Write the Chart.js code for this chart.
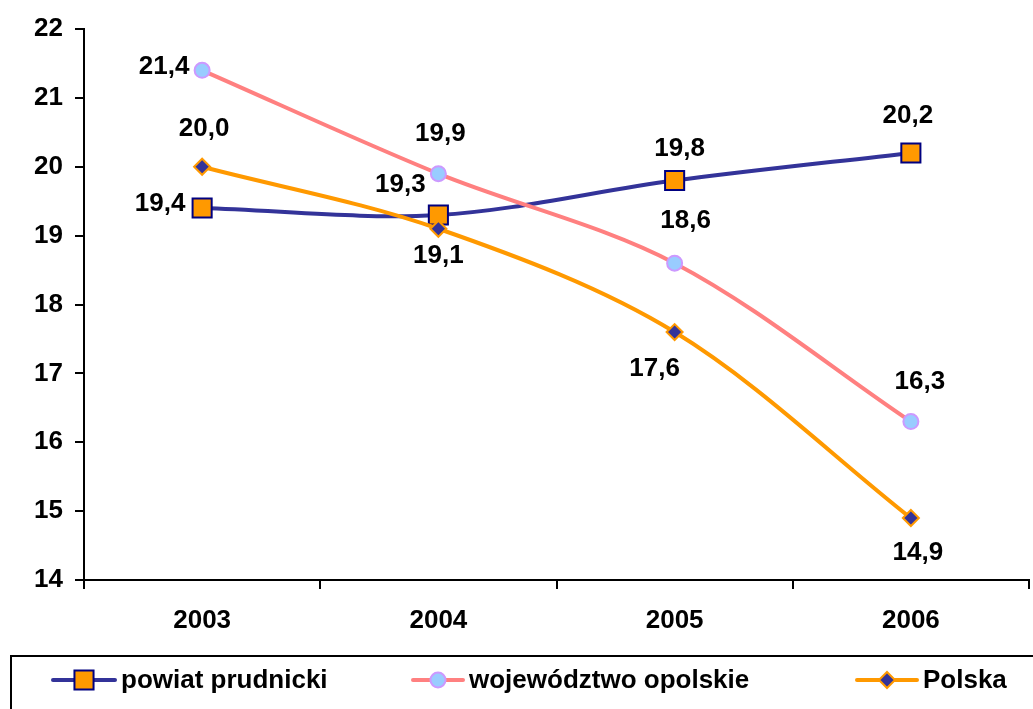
<!DOCTYPE html>
<html>
<head>
<meta charset="utf-8">
<script src="https://cdn.jsdelivr.net/npm/chart.js@4/dist/chart.umd.min.js"></script>
<style>
    body { margin: 0; background: #fff; }
    #wrap { width: 1033px; height: 709px; position: relative; }
</style>
</head>
<body>
<div id="wrap"><canvas id="chart"></canvas></div>
<script>
const years = ['2003', '2004', '2005', '2006'];
const powiat = [19.4, 19.3, 19.8, 20.2];
const wojewodztwo = [21.4, 19.9, 18.6, 16.3];
const polska = [20.0, 19.1, 17.6, 14.9];
const seriesNames = ['powiat prudnicki', 'województwo opolskie', 'Polska'];
const yTicks = [14, 15, 16, 17, 18, 19, 20, 21, 22];

const FONT = '"Liberation Sans", Arial, sans-serif';

// where each value label sits relative to its point
const labelOffsets = [
    [[-42, -4], [-38, -30], [5, -32], [-3, -37]],
    [[-38, -3], [2, -40], [11, -42], [9, -40]],
    [[2, -38], [0, 27], [-20, 37], [7, 35]]
];

const valueLabels = {
    id: 'valueLabels',
    afterDatasetsDraw(chart) {
        const ctx = chart.ctx;
        ctx.save();
        ctx.font = 'bold 26px ' + FONT;
        ctx.fillStyle = '#000';
        ctx.textAlign = 'center';
        ctx.textBaseline = 'middle';
        chart.data.datasets.forEach((ds, i) => {
            const meta = chart.getDatasetMeta(i);
            meta.data.forEach((pt, j) => {
                const off = labelOffsets[i][j];
                const txt = ds.data[j].toFixed(1).replace('.', ',');
                ctx.fillText(txt, pt.x + off[0], pt.y + off[1]);
            });
        });
        ctx.restore();
    }
};

const legendBox = {
    id: 'legendBox',
    afterDraw(chart) {
        const ctx = chart.ctx;
        ctx.save();
        ctx.strokeStyle = '#000';
        ctx.lineWidth = 2;
        ctx.strokeRect(11, 656, 1040, 80);

        const items = [[53, 115], [413, 463], [857, 917]];
        const y = 680;
        ctx.font = 'bold 26px ' + FONT;
        ctx.textBaseline = 'middle';
        ctx.textAlign = 'left';
        chart.data.datasets.forEach((ds, i) => {
            const [x0, x1] = items[i];
            ctx.strokeStyle = ds.borderColor;
            ctx.lineWidth = 4;
            ctx.lineCap = 'round';
            ctx.beginPath();
            ctx.moveTo(x0, y);
            ctx.lineTo(x1, y);
            ctx.stroke();
            ctx.fillStyle = ds.pointBackgroundColor;
            ctx.strokeStyle = ds.pointBorderColor;
            ctx.lineWidth = ds.pointBorderWidth;
            Chart.helpers.drawPoint(ctx, {
                pointStyle: ds.pointStyle,
                radius: ds.pointRadius,
                rotation: 0,
                borderWidth: ds.pointBorderWidth
            }, (x0 + x1) / 2, y);
            ctx.fillStyle = '#000';
            ctx.fillText(ds.label, x1 + 6, y + 1);
        });
        ctx.restore();
    }
};

new Chart(document.getElementById('chart'), {
    type: 'line',
    data: {
        labels: years,
        datasets: [
            {
                label: seriesNames[0],
                data: powiat,
                borderColor: '#333399',
                borderWidth: 4,
                pointStyle: 'rect',
                pointRadius: 13.5,
                pointBackgroundColor: '#FF9900',
                pointBorderColor: '#000080',
                pointBorderWidth: 2,
                tension: 0.33,
                order: 3
            },
            {
                label: seriesNames[1],
                data: wojewodztwo,
                borderColor: '#FF8080',
                borderWidth: 4,
                pointStyle: 'circle',
                pointRadius: 7.5,
                pointBackgroundColor: '#99CCFF',
                pointBorderColor: '#CC99FF',
                pointBorderWidth: 2,
                tension: 0.33,
                order: 2
            },
            {
                label: seriesNames[2],
                data: polska,
                borderColor: '#FF9900',
                borderWidth: 4,
                pointStyle: 'rectRot',
                pointRadius: 8,
                pointBackgroundColor: '#333399',
                pointBorderColor: '#FF9900',
                pointBorderWidth: 2,
                tension: 0.33,
                order: 1
            }
        ]
    },
    options: {
        responsive: true,
        maintainAspectRatio: false,
        animation: false,
        layout: {
            autoPadding: false,
            padding: { top: 29, right: 4, left: 0, bottom: 0 }
        },
        plugins: {
            legend: { display: false },
            tooltip: { enabled: false }
        },
        scales: {
            x: {
                offset: true,
                afterFit: s => {
                    s.height = 129;
                    s.paddingLeft = 0;
                    s.paddingRight = 0;
                },
                grid: {
                    offset: true,
                    drawOnChartArea: false,
                    drawTicks: true,
                    tickLength: 9,
                    color: '#000',
                    lineWidth: 2
                },
                border: { color: '#000', width: 2 },
                ticks: {
                    color: '#000',
                    padding: 16,
                    font: { family: FONT, size: 26, weight: 'bold' }
                }
            },
            y: {
                min: 14,
                max: 22,
                afterFit: s => { s.width = 84; },
                afterBuildTicks: s => { s.ticks = yTicks.map(v => ({ value: v })); },
                grid: {
                    drawOnChartArea: false,
                    drawTicks: true,
                    tickLength: 9,
                    color: '#000',
                    lineWidth: 2
                },
                border: { color: '#000', width: 2 },
                ticks: {
                    color: '#000',
                    padding: 12,
                    font: { family: FONT, size: 26, weight: 'bold' }
                }
            }
        }
    },
    plugins: [valueLabels, legendBox]
});
</script>
</body>
</html>
